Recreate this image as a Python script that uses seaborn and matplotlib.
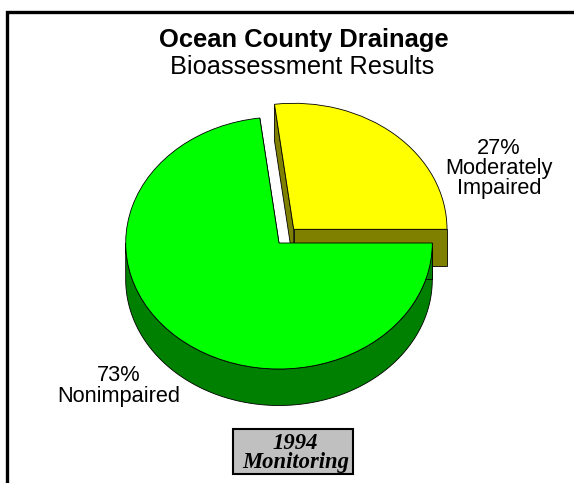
import matplotlib
matplotlib.use('Agg')
import matplotlib.pyplot as plt
import numpy as np
import seaborn as sns

sns.set_theme(style='white')
plt.rcParams['font.family'] = ['Liberation Sans', 'DejaVu Sans']

labels = ['Moderately\nImpaired', 'Nonimpaired']
shares = [27, 73]
top_colors = ['#ffff00', '#00ff00']
side_colors = ['#808000', '#008000']
explode = [0.145, 0]

W, H = 574, 483
# pie centre and radii in pixels, the axes is scaled so one data unit = one radius
CX, CY, RX, RY = 279, 243, 153.3, 126
DEPTH = 36.5 / RY
EDGE = 0.6

fig = plt.figure(figsize=(W / 100, H / 100), dpi=100)
ax = fig.add_axes([0, 0, 1, 1])

wedges, _ = ax.pie(shares, explode=explode, colors=top_colors, startangle=0, radius=1,
                   wedgeprops={'edgecolor': 'black', 'linewidth': EDGE})
ax.set_aspect('auto')
ax.set_xlim(-CX / RX, (W - CX) / RX)
ax.set_ylim(-(H - CY) / RY, CY / RY)


def draw_sides(wedge, color, z):
    cx, cy = wedge.center
    t1, t2 = wedge.theta1, wedge.theta2
    # outer wall, only the front half can be seen
    a1, a2 = max(t1, 180), min(t2, 360)
    if a2 > a1:
        t = np.radians(np.linspace(a1, a2, 200))
        x = cx + wedge.r * np.cos(t)
        y = cy + wedge.r * np.sin(t)
        ax.fill(np.r_[x, x[::-1]], np.r_[y, y[::-1] - DEPTH], fc=color, ec='black', lw=EDGE, zorder=z)
    # flat cut faces
    for a in (t1, t2):
        ex = cx + wedge.r * np.cos(np.radians(a))
        ey = cy + wedge.r * np.sin(np.radians(a))
        ax.fill([cx, ex, ex, cx], [cy, ey, ey - DEPTH, cy - DEPTH], fc=color, ec='black', lw=EDGE, zorder=z)


for i, wedge in enumerate(wedges):
    z = 2 + i * 2
    draw_sides(wedge, side_colors[i], z)
    wedge.set_zorder(z + 1)


def px(x, y):
    return x / W, 1 - y / H


tkw = dict(transform=fig.transFigure, ha='center', va='center', color='black')
fig.text(*px(303.5, 40), 'Ocean County Drainage', fontsize=18.4, fontweight='bold', **tkw)
fig.text(*px(302, 66.5), 'Bioassessment Results', fontsize=18.3, **tkw)
fig.text(*px(499, 168.5), f'{shares[0]}%\n{labels[0]}', fontsize=15.7, linespacing=0.92, **tkw)
fig.text(*px(119, 386), f'{shares[1]}%\n{labels[1]}', fontsize=15.7, linespacing=0.95, **tkw)

# monitoring box
box = plt.Rectangle(px(233, 474), 120 / W, 45 / H, transform=fig.transFigure, fc='#c0c0c0', ec='black', lw=1.5)
fig.add_artist(box)
fig.text(*px(295.5, 453), '1994\nMonitoring', fontsize=16.3, fontweight='bold', fontstyle='italic',
         fontfamily=['Liberation Serif', 'DejaVu Serif'], linespacing=0.92, **tkw)

# open frame, left and top only
frame_x = np.array([6.6, 6.6, W])
frame_y = np.array([H, 12, 12])
fig.add_artist(plt.Line2D(frame_x / W, 1 - frame_y / H, transform=fig.transFigure, color='black',
                          lw=2.4, solid_joinstyle='miter', solid_capstyle='butt'))

fig.savefig('out.png', dpi=100)
